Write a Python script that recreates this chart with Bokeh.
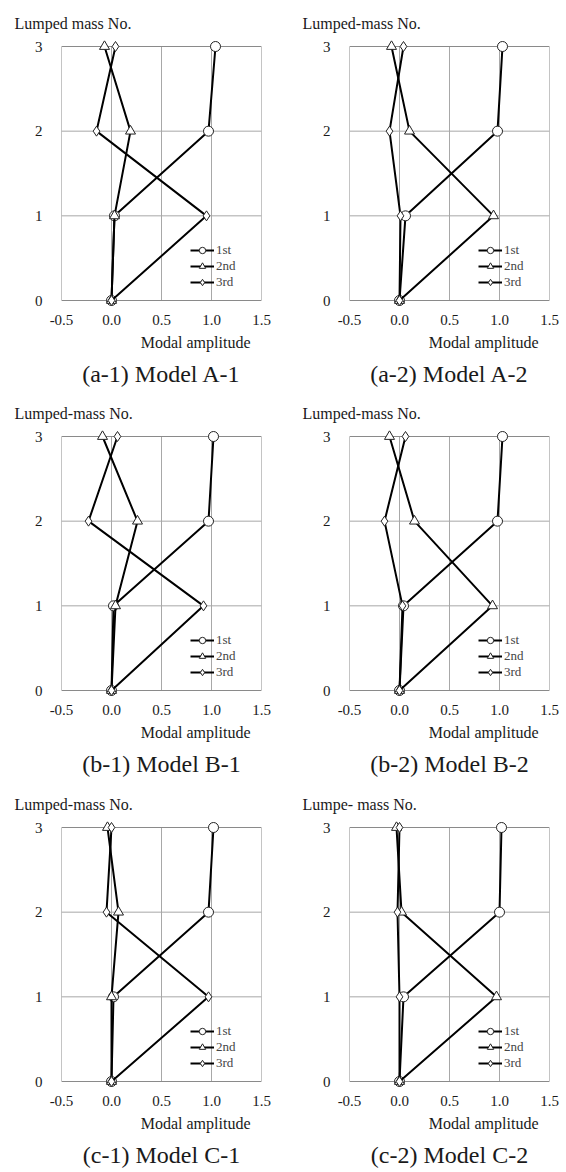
from bokeh.plotting import figure
from bokeh.models import Range1d, FixedTicker, Legend, LegendItem, Title
from bokeh.layouts import column, row
from bokeh.embed import file_html
from bokeh.resources import INLINE

# ---- data ----
levels = [0, 1, 2, 3]
x_ticks = [-0.5, 0.0, 0.5, 1.0, 1.5]
x_tick_labels = ["-0.5", "0.0", "0.5", "1.0", "1.5"]
y_ticks = [0, 1, 2, 3]
y_tick_labels = ["0", "1", "2", "3"]
series_names = ["1st", "2nd", "3rd"]

A1_1st = [0.0, 0.03, 0.97, 1.04]
A1_2nd = [0.0, 0.03, 0.19, -0.07]
A1_3rd = [0.0, 0.95, -0.15, 0.04]

A2_1st = [0.0, 0.06, 0.98, 1.03]
A2_2nd = [0.0, 0.94, 0.10, -0.08]
A2_3rd = [0.0, 0.01, -0.10, 0.04]

B1_1st = [0.0, 0.02, 0.97, 1.02]
B1_2nd = [0.0, 0.04, 0.26, -0.09]
B1_3rd = [0.0, 0.92, -0.23, 0.06]

B2_1st = [0.0, 0.04, 0.98, 1.03]
B2_2nd = [0.0, 0.93, 0.15, -0.10]
B2_3rd = [0.0, 0.03, -0.15, 0.06]

C1_1st = [0.0, 0.02, 0.97, 1.02]
C1_2nd = [0.0, 0.00, 0.07, -0.04]
C1_3rd = [0.0, 0.97, -0.05, 0.00]

C2_1st = [0.0, 0.04, 1.00, 1.02]
C2_2nd = [0.0, 0.97, 0.02, -0.03]
C2_3rd = [0.0, 0.00, -0.02, 0.00]

y_titles = ["Lumped mass No.", "Lumped-mass No.", "Lumped-mass No.",
            "Lumped-mass No.", "Lumped-mass No.", "Lumpe- mass No."]
captions = ["(a-1) Model A-1", "(a-2) Model A-2", "(b-1) Model B-1",
            "(b-2) Model B-2", "(c-1) Model C-1", "(c-2) Model C-2"]
x_title = "Modal amplitude"

FONT = "Liberation Serif"
TXT = "#1a1a1a"
BOX_W, BOX_H = 200, 254     # pixel size of the 0..3 / -0.5..1.5 box
PAD = 6                     # extra frame pixels above/below so markers are not clipped
markers = ["circle", "triangle", "diamond"]


def make_panel(vals, ytitle, caption, col, rw):
    left = 61 if col == 0 else 66
    right = 283 - left - BOX_W
    top = (46 if rw < 2 else 47) - PAD
    height = 390 if rw < 2 else 392
    frame_h = BOX_H + 2 * PAD
    bottom = height - top - frame_h
    ypad = PAD * (y_ticks[-1] - y_ticks[0]) / BOX_H
    p = figure(width=283, height=height,
               x_range=Range1d(x_ticks[0], x_ticks[-1]),
               y_range=Range1d(y_ticks[0] - ypad, y_ticks[-1] + ypad),
               output_backend="svg", toolbar_location=None,
               min_border_left=left, min_border_right=right,
               min_border_top=top, min_border_bottom=bottom)
    p.background_fill_color = "white"
    p.border_fill_color = "white"
    p.outline_line_color = None
    p.xgrid.visible = False
    p.ygrid.visible = False

    p.xaxis.ticker = FixedTicker(ticks=x_ticks)
    p.xaxis.major_label_overrides = dict(zip(x_ticks, x_tick_labels))
    p.yaxis.ticker = FixedTicker(ticks=y_ticks)
    p.yaxis.major_label_overrides = dict(zip(y_ticks, y_tick_labels))
    for ax in (p.xaxis, p.yaxis):
        ax.axis_line_color = None
        ax.major_tick_line_color = None
        ax.minor_tick_line_color = None
        ax.major_tick_out = 0
        ax.major_tick_in = 0
        ax.major_label_text_font = FONT
        ax.major_label_text_font_size = "15px"
        ax.major_label_text_color = TXT
    p.xaxis.major_label_standoff = 8
    p.yaxis.major_label_standoff = 19

    # grid lines (interior) and box, in data coordinates from the tick lists
    inner_x = x_ticks[1:-1]
    inner_y = y_ticks[1:-1]
    p.segment(x0=inner_x, y0=[y_ticks[0]] * len(inner_x),
              x1=inner_x, y1=[y_ticks[-1]] * len(inner_x),
              line_color="#a8a8a8", line_width=1)
    p.segment(x0=[x_ticks[0]] * len(inner_y), y0=inner_y,
              x1=[x_ticks[-1]] * len(inner_y), y1=inner_y,
              line_color="#a8a8a8", line_width=1)
    p.quad(left=[x_ticks[0]], right=[x_ticks[-1]], bottom=[y_ticks[0]], top=[y_ticks[-1]],
           fill_color=None, line_color="#8a8a8a", line_width=1)

    items = []
    for v, mk, name in zip(vals, markers, series_names):
        ln = p.line(v, levels, line_color="black", line_width=2)
        sc = p.scatter(v, levels, marker=mk, size=10, fill_color="white",
                       line_color="#222222", line_width=1)
        items.append(LegendItem(label=name, renderers=[ln, sc]))

    leg = Legend(items=items, location=(129, 10 + PAD))
    leg.background_fill_alpha = 0
    leg.border_line_color = None
    leg.label_text_font = FONT
    leg.label_text_font_size = "13px"
    leg.glyph_width = 24
    leg.glyph_height = 16
    leg.label_height = 16
    leg.spacing = 0
    leg.padding = 2
    leg.margin = 0
    leg.label_standoff = 2
    p.add_layout(leg)

    p.title.text = ytitle
    p.title.align = "left"
    p.title.offset = -47
    p.title.standoff = 17
    p.title.text_font = FONT
    p.title.text_font_size = "16px"
    p.title.text_font_style = "normal"
    p.title.text_color = TXT

    p.add_layout(Title(text=x_title, align="right", offset=11, standoff=8,
                       text_font=FONT, text_font_size="16px", text_font_style="normal",
                       text_color=TXT), "below")
    p.add_layout(Title(text=caption, align="center", offset=-1, standoff=8,
                       text_font=FONT, text_font_size="24px", text_font_style="normal",
                       text_color=TXT), "below")
    return p


panel_vals = [
    (A1_1st, A1_2nd, A1_3rd), (A2_1st, A2_2nd, A2_3rd),
    (B1_1st, B1_2nd, B1_3rd), (B2_1st, B2_2nd, B2_3rd),
    (C1_1st, C1_2nd, C1_3rd), (C2_1st, C2_2nd, C2_3rd),
]

figs = []
for i, vals in enumerate(panel_vals):
    figs.append(make_panel(vals, y_titles[i], captions[i], i % 2, i // 2))

layout = column(row(figs[0], figs[1]), row(figs[2], figs[3]), row(figs[4], figs[5]))

open("out.html", "w").write(file_html(layout, INLINE))
